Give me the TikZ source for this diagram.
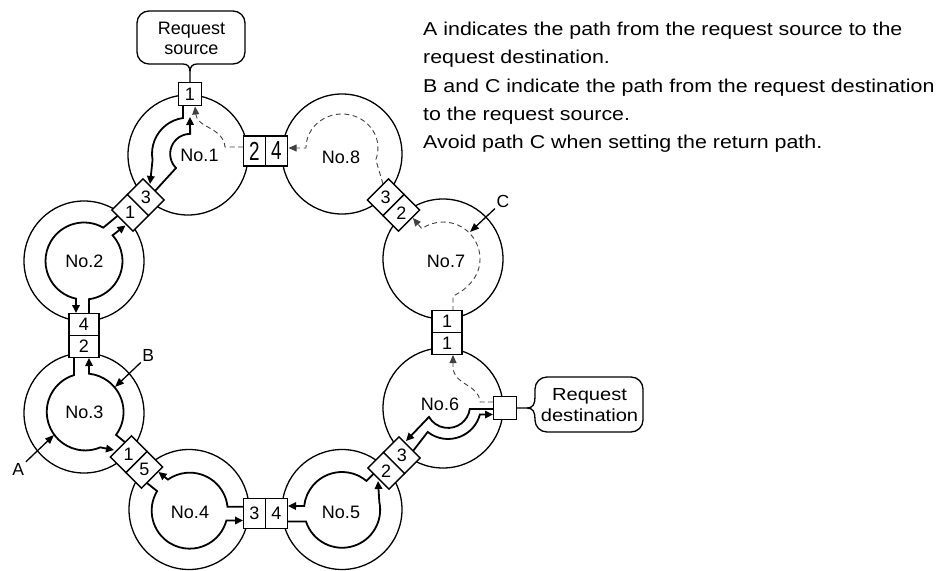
\documentclass[tikz,border=0pt]{standalone}
\usepackage{fontspec}
\usepackage{graphicx}
\setmainfont{Liberation Sans}
\newfontfamily\widefont[FakeStretch=1.15]{Liberation Sans}
\usetikzlibrary{arrows.meta}
\tikzset{
  station/.style={circle, draw, line width=1.3pt, minimum size=120pt, inner sep=0pt},
  tube/.style={line width=1.8pt, -{Triangle[length=8pt,width=7.5pt]}},
  pathc/.style={line width=0.9pt, draw=black!75, dash pattern=on 5pt off 3.5pt, -{Triangle[length=8pt,width=7pt]}},
  portbox/.style={draw, fill=white, line width=1.4pt, inner sep=0pt, minimum width=22pt, minimum height=30pt, font=\fontsize{18}{20}\selectfont},
  vportbox/.style={portbox, minimum width=30pt, minimum height=22pt},
  sqbox/.style={portbox, minimum width=23pt, minimum height=23pt},
  stlabel/.style={inner sep=0pt, font=\fontsize{18}{20}\selectfont},
  note/.style={inner sep=0pt, anchor=base west, font=\widefont\fontsize{18.6}{28}\selectfont},
  callout/.style={line width=1.3pt, line join=round},
  calltext/.style={inner sep=0pt, anchor=base, font=\fontsize{18}{20}\selectfont},
  dcalltext/.style={inner sep=0pt, anchor=base, font=\widefont\fontsize{17.5}{20}\selectfont},
  letter/.style={inner sep=1.5pt, font=\fontsize{17.5}{20}\selectfont},
  labarrow/.style={line width=1.3pt, -{Triangle[length=9pt,width=7pt]}},
}
\begin{document}
\begin{tikzpicture}[x=1pt,y=-1pt]
\useasboundingbox (0,0) rectangle (941,570);
% stations
\node[station] (N1) at (188,155) {};
\node[station] (N8) at (342,154) {};
\node[station] (N7) at (443,259) {};
\node[station] (N6) at (443,408) {};
\node[station] (N5) at (342,509.5) {};
\node[station] (N4) at (189,509.5) {};
\node[station] (N3) at (84,413) {};
\node[station] (N2) at (84,261) {};
% No.1
\draw[tube] (183,105) -- (183,118) arc[start angle=262, end angle=170, radius=36] -- (150,184);
\draw[tube] (155,191) -- (176,168) arc[start angle=135, end angle=270, radius=20] -- (190,117);
\draw[pathc] (243,147) -- (225,147) .. controls (223,127) and (197,128) .. (195,106.5);
% No.8
\draw[pathc] (383,184) -- (375.8,159.6) arc[start angle=20, end angle=-180, x radius=36, y radius=34] -- (288.5,148);
% No.7
\draw[pathc] (453,311) -- (453,296) .. controls (468,289) and (480,276) .. (480,259) arc[start angle=0, end angle=-125, radius=37] -- (413,218);
% No.6
\draw[pathc] (493,402) -- (480,402) .. controls (479,384) and (455,386) .. (453,368) -- (453,355);
\draw[tube] (413,451) -- (427.7,432) arc[start angle=128, end angle=15, radius=33] -- (493,414.5);
\draw[tube] (494,409) -- (469.8,409) arc[start angle=8, end angle=150, radius=22] -- (406,441);
% No.5
\draw[tube] (373.6,473.8) -- (366.4,480.9) arc[start angle=-50, end angle=-174, radius=38] -- (288,506);
\draw[tube] (287,521.5) -- (306,521.5) arc[start angle=162, end angle=-12, radius=38] -- (378,481);
% No.4
\draw[tube] (147,483) -- (157.1,491.1) arc[start angle=-149, end angle=-345, radius=38] -- (243,520.5);
\draw[tube] (244,506.7) -- (227.5,506.7) arc[start angle=-6, end angle=-125, radius=38] -- (158.5,472);
% No.3
\draw[tube] (74,357) -- (74,375.1) arc[start angle=-107, end angle=-293, radius=38.5] -- (114,450);
\draw[tube] (126,443) -- (116,434.9) arc[start angle=36.5, end angle=-84, radius=38.5] -- (89,358);
% No.2
\draw[tube] (117.6,215.8) -- (103.25,227.66) arc[start angle=-60, end angle=-258, radius=38.5] -- (76,313);
\draw[tube] (89,314) -- (89,299.2) arc[start angle=82.5, end angle=-42, radius=38.5] -- (125.5,225.5);
% ports
\node[sqbox] (src1) at (190,94) {1};
\node[sqbox] (dst) at (505,408) {};
\node[portbox] (p12) at (254.5,151) {\scalebox{1.05}[1.45]{2}};
\node[portbox] (p84) at (276.5,151) {\scalebox{1.05}[1.45]{4}};
\node[portbox, rotate=-45] (p83) at (385.72,197.22) {\rotatebox{45}{3}};
\node[portbox, rotate=-45] (p72) at (401.28,212.78) {\rotatebox{45}{2}};
\node[vportbox] (p71) at (447,321.5) {1};
\node[vportbox] (p61) at (447,343.5) {1};
\node[portbox, rotate=45] (p63) at (401.78,455.22) {\rotatebox{-45}{3}};
\node[portbox, rotate=45] (p52) at (386.22,470.78) {\rotatebox{-45}{2}};
\node[portbox] (p43) at (254.5,513.5) {3};
\node[portbox] (p54) at (276.5,513.5) {4};
\node[portbox, rotate=-45] (p31) at (128.72,454.22) {\rotatebox{45}{1}};
\node[portbox, rotate=-45] (p45) at (144.28,469.78) {\rotatebox{45}{5}};
\node[vportbox] (p24) at (84,324.5) {4};
\node[vportbox] (p32) at (84,346.5) {2};
\node[portbox, rotate=45] (p21) at (130.22,212.78) {\rotatebox{-45}{1}};
\node[portbox, rotate=45] (p13) at (145.78,197.22) {\rotatebox{-45}{3}};
% station labels
\node[stlabel] (l1) at (199.5,155) {No.1};
\node[stlabel] (l8) at (341,157) {No.8};
\node[stlabel] (l7) at (446,261.5) {No.7};
\node[stlabel] (l6) at (440,404) {No.6};
\node[stlabel] (l5) at (341,512) {No.5};
\node[stlabel] (l4) at (190,512) {No.4};
\node[stlabel] (l3) at (84.5,412.5) {No.3};
\node[stlabel] (l2) at (84.5,261.5) {No.2};
% callouts
\draw[callout] (src1.north) -- (190,72) .. controls (190,67) and (192,64) .. (197,64) -- (233,64)
  arc[start angle=90, end angle=0, radius=12] -- (245,23)
  arc[start angle=0, end angle=-90, radius=12] -- (149,11)
  arc[start angle=270, end angle=180, radius=12] -- (137,52)
  arc[start angle=180, end angle=90, radius=12] -- (183,64)
  .. controls (188,64) and (190,67) .. (190,72);
\node[calltext] (srcA) at (191.5,34.3) {Request};
\node[calltext] (srcB) at (191.5,54.3) {source};
\draw[callout] (dst.east) -- (527,408) .. controls (533,408) and (535,404) .. (535,397) -- (535,389)
  arc[start angle=180, end angle=270, radius=12] -- (631,377)
  arc[start angle=270, end angle=360, radius=12] -- (643,420)
  arc[start angle=0, end angle=90, radius=12] -- (547,432)
  arc[start angle=90, end angle=180, radius=12] -- (535,419)
  .. controls (535,412) and (533,408) .. (527,408);
\node[dcalltext] (dstA) at (589.5,400) {Request};
\node[dcalltext] (dstB) at (589.5,421) {destination};
% letters
\node[letter] (la) at (18.3,469) {A};
\node[letter] (lb) at (148.3,355.3) {B};
\node[letter] (lc) at (503,201) {C};
\coordinate (atip) at (54,435);
\coordinate (btip) at (115,387);
\coordinate (ctip) at (470,232);
\draw[labarrow] (la) -- (atip);
\draw[labarrow] (lb) -- (btip);
\draw[labarrow] (lc) -- (ctip);
% notes
\node[note] (t1) at (423,35.7) {A indicates the path from the request source to the};
\node[note] (t2) at (423,63.85) {request destination.};
\node[note] (t3) at (423,92) {B and C indicate the path from the request destination};
\node[note] (t4) at (423,120.15) {to the request source.};
\node[note] (t5) at (423,148.3) {Avoid path C when setting the return path.};
\end{tikzpicture}
\end{document}
